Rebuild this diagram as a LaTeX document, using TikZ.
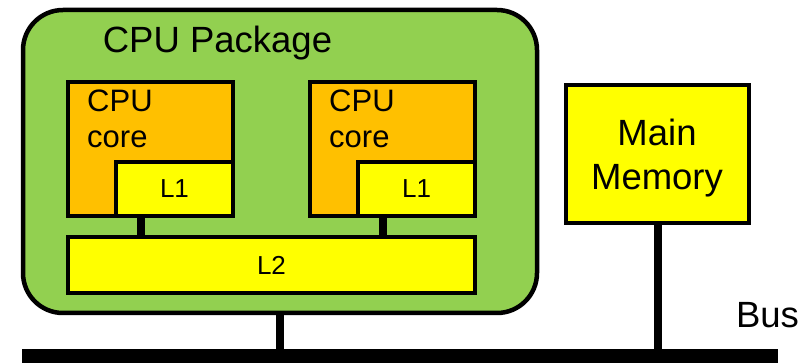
\documentclass[tikz,border=0pt]{standalone}
\usepackage{fontspec}
\setmainfont{Liberation Sans}
\definecolor{pkggreen}{HTML}{92D050}
\definecolor{coreorange}{HTML}{FFC000}
\definecolor{cacheyellow}{HTML}{FFFF00}
\begin{document}
\begin{tikzpicture}[x=1pt,y=-1pt,
  box/.style={draw=black, line width=4.5pt, rectangle, inner sep=0pt},
  pkgbox/.style={box, fill=pkggreen, rounded corners=40pt},
  corebox/.style={box, fill=coreorange},
  cachebox/.style={box, fill=cacheyellow},
  link/.style={draw=black, line width=8pt},
  buswire/.style={draw=black, line width=13pt},
  bigtext/.style={font=\fontsize{36.5}{44}\selectfont, inner sep=0pt},
  coretext/.style={font=\fontsize{31}{36}\selectfont, inner sep=0pt},
  smalltext/.style={font=\fontsize{26}{30}\selectfont, inner sep=0pt}
]
\useasboundingbox (0,0) rectangle (806,363);

% package and its contents
\node[pkgbox, minimum width=514pt, minimum height=303pt] (pkg) at (280,161.5) {};
\node[bigtext, anchor=base] (pkglabel) at (217.5,53) {CPU Package};

\node[corebox, minimum width=165pt, minimum height=134pt] (coreA) at (150.5,149) {};
\node[coretext, anchor=base west] (coreAlabel) at (87,112) {\vtop{\hbox{CPU}\hbox{core}}};
\node[cachebox, minimum width=117pt, minimum height=54pt] (lA) at (174.5,189) {};
\node[smalltext] (lAlabel) at (lA.center) {L1};

\node[corebox, minimum width=165pt, minimum height=134pt] (coreB) at (392.5,149) {};
\node[coretext, anchor=base west] (coreBlabel) at (329,112) {\vtop{\hbox{CPU}\hbox{core}}};
\node[cachebox, minimum width=117pt, minimum height=54pt] (lB) at (416.5,189) {};
\node[smalltext] (lBlabel) at (lB.center) {L1};

\node[cachebox, minimum width=407pt, minimum height=56pt] (ltwo) at (271.5,265) {};
\node[smalltext] (ltwolabel) at (ltwo.center) {L2};

% L1 to L2 links
\draw[link] ([xshift=27pt]lA.south west) -- ([xshift=27pt]lA.south west |- ltwo.north);
\draw[link] ([xshift=27pt]lB.south west) -- ([xshift=27pt]lB.south west |- ltwo.north);

% main memory
\node[cachebox, minimum width=183pt, minimum height=138pt] (mem) at (657.5,154) {};
\node[bigtext, anchor=base] (memlabel) at (657,146)
  {\vtop{\halign{\hfil#\hfil\cr Main\cr Memory\cr}}};

% system bus
\coordinate (busL) at (22,356);
\coordinate (busR) at (778,356);
\draw[link] (pkg.south) -- (pkg.south |- busL);
\draw[link] (mem.south) -- (mem.south |- busL);
\draw[buswire] (busL) -- (busR);
\node[bigtext, anchor=base] (buslabel) at (767.5,327) {Bus};
\end{tikzpicture}
\end{document}
